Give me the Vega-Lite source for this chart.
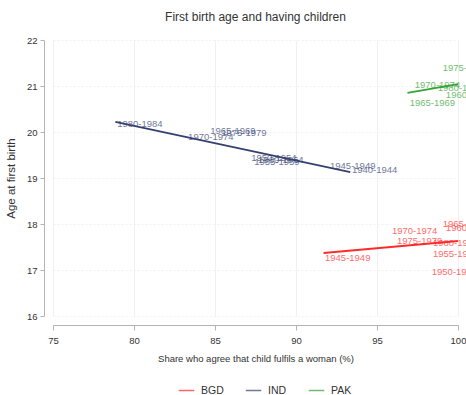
{
  "$schema": "https://vega.github.io/schema/vega-lite/v6.json",
  "autosize": {"type": "none"},
  "width": 405,
  "height": 276,
  "padding": {"left": 53, "top": 40, "right": 8, "bottom": 79},
  "background": "white",
  "title": {"text": "First birth age and having children", "font": "Liberation Sans", "fontSize": 12, "fontWeight": "normal", "color": "#333333", "offset": 11, "anchor": "middle"},
  "config": {
    "view": {"stroke": null},
    "font": "Liberation Sans",
    "axis": {"gridColor": "#ececec", "gridWidth": 0.8, "domainColor": "#b4b4b4", "tickColor": "#b4b4b4", "labelColor": "#333333", "titleColor": "#333333", "labelFont": "Liberation Sans", "titleFont": "Liberation Sans", "titleFontWeight": "normal"}
  },
  "datasets": {
    "labels": [
      {"country": "IND", "cohort": "1980-1984", "share": 78.96, "age": 20.17},
      {"country": "IND", "cohort": "1970-1974", "share": 83.34, "age": 19.89},
      {"country": "IND", "cohort": "1965-1969", "share": 84.70, "age": 20.02},
      {"country": "IND", "cohort": "1975-1979", "share": 85.38, "age": 19.98},
      {"country": "IND", "cohort": "1950-1954", "share": 87.23, "age": 19.43},
      {"country": "IND", "cohort": "1955-1959", "share": 87.42, "age": 19.35},
      {"country": "IND", "cohort": "1960-1964", "share": 87.66, "age": 19.39},
      {"country": "IND", "cohort": "1945-1949", "share": 92.10, "age": 19.26},
      {"country": "IND", "cohort": "1940-1944", "share": 93.45, "age": 19.17},
      {"country": "BGD", "cohort": "1945-1949", "share": 91.79, "age": 17.26},
      {"country": "BGD", "cohort": "1970-1974", "share": 95.92, "age": 17.85},
      {"country": "BGD", "cohort": "1975-1979", "share": 96.23, "age": 17.63},
      {"country": "BGD", "cohort": "1980-1984", "share": 98.45, "age": 17.59},
      {"country": "BGD", "cohort": "1955-1959", "share": 98.45, "age": 17.35},
      {"country": "BGD", "cohort": "1950-1954", "share": 98.38, "age": 16.96},
      {"country": "BGD", "cohort": "1965-1969", "share": 99.06, "age": 18.00},
      {"country": "BGD", "cohort": "1960-1964", "share": 99.25, "age": 17.91},
      {"country": "PAK", "cohort": "1975-1979", "share": 99.06, "age": 21.39},
      {"country": "PAK", "cohort": "1970-1974", "share": 97.33, "age": 21.02},
      {"country": "PAK", "cohort": "1965-1969", "share": 97.02, "age": 20.63},
      {"country": "PAK", "cohort": "1980-1984", "share": 98.75, "age": 20.96},
      {"country": "PAK", "cohort": "1960-1964", "share": 99.25, "age": 20.80}
    ],
    "fits": [
      {"country": "BGD", "share": 91.7, "age": 17.37},
      {"country": "BGD", "share": 100.0, "age": 17.63},
      {"country": "IND", "share": 78.85, "age": 20.22},
      {"country": "IND", "share": 93.35, "age": 19.13},
      {"country": "PAK", "share": 96.88, "age": 20.85},
      {"country": "PAK", "share": 100.0, "age": 21.04}
    ]
  },
  "encoding": {
    "x": {"field": "share", "type": "quantitative", "scale": {"domain": [75, 100], "nice": false, "zero": false},
      "axis": {"values": [75, 80, 85, 90, 95, 100], "offset": 9, "tickSize": 5, "labelFontSize": 9.5, "labelPadding": 5, "title": "Share who agree that child fulfils a woman (%)", "titleFontSize": 9.5, "titlePadding": 9, "gridDash": [], "labelFlush": false}},
    "y": {"field": "age", "type": "quantitative", "scale": {"domain": [16, 22], "nice": false, "zero": false},
      "axis": {"values": [16, 17, 18, 19, 20, 21, 22], "offset": 9, "tickSize": 4, "labelFontSize": 9.5, "labelPadding": 3, "title": "Age at first birth", "titleFontSize": 11.5, "titlePadding": 10, "gridDash": [2, 2]}},
    "color": {"field": "country", "type": "nominal",
      "scale": {"domain": ["BGD", "IND", "PAK"], "range": ["#ff2b2b", "#34406f", "#35a335"]},
      "legend": {"orient": "none", "legendX": 125, "legendY": 342, "direction": "horizontal", "title": null, "symbolType": "stroke", "symbolSize": 240, "symbolStrokeWidth": 1.5, "labelFontSize": 10.5, "labelColor": "#333333", "columnPadding": 18, "labelOffset": 6}}
  },
  "layer": [
    {
      "data": {"name": "fits"},
      "mark": {"type": "line", "strokeWidth": 1.8},
      "encoding": {"detail": {"field": "country"}}
    },
    {
      "data": {"name": "labels"},
      "mark": {"type": "text", "align": "left", "baseline": "middle", "fontSize": 9.5, "opacity": 0.7, "font": "Liberation Sans"},
      "encoding": {"text": {"field": "cohort"}}
    }
  ]
}
